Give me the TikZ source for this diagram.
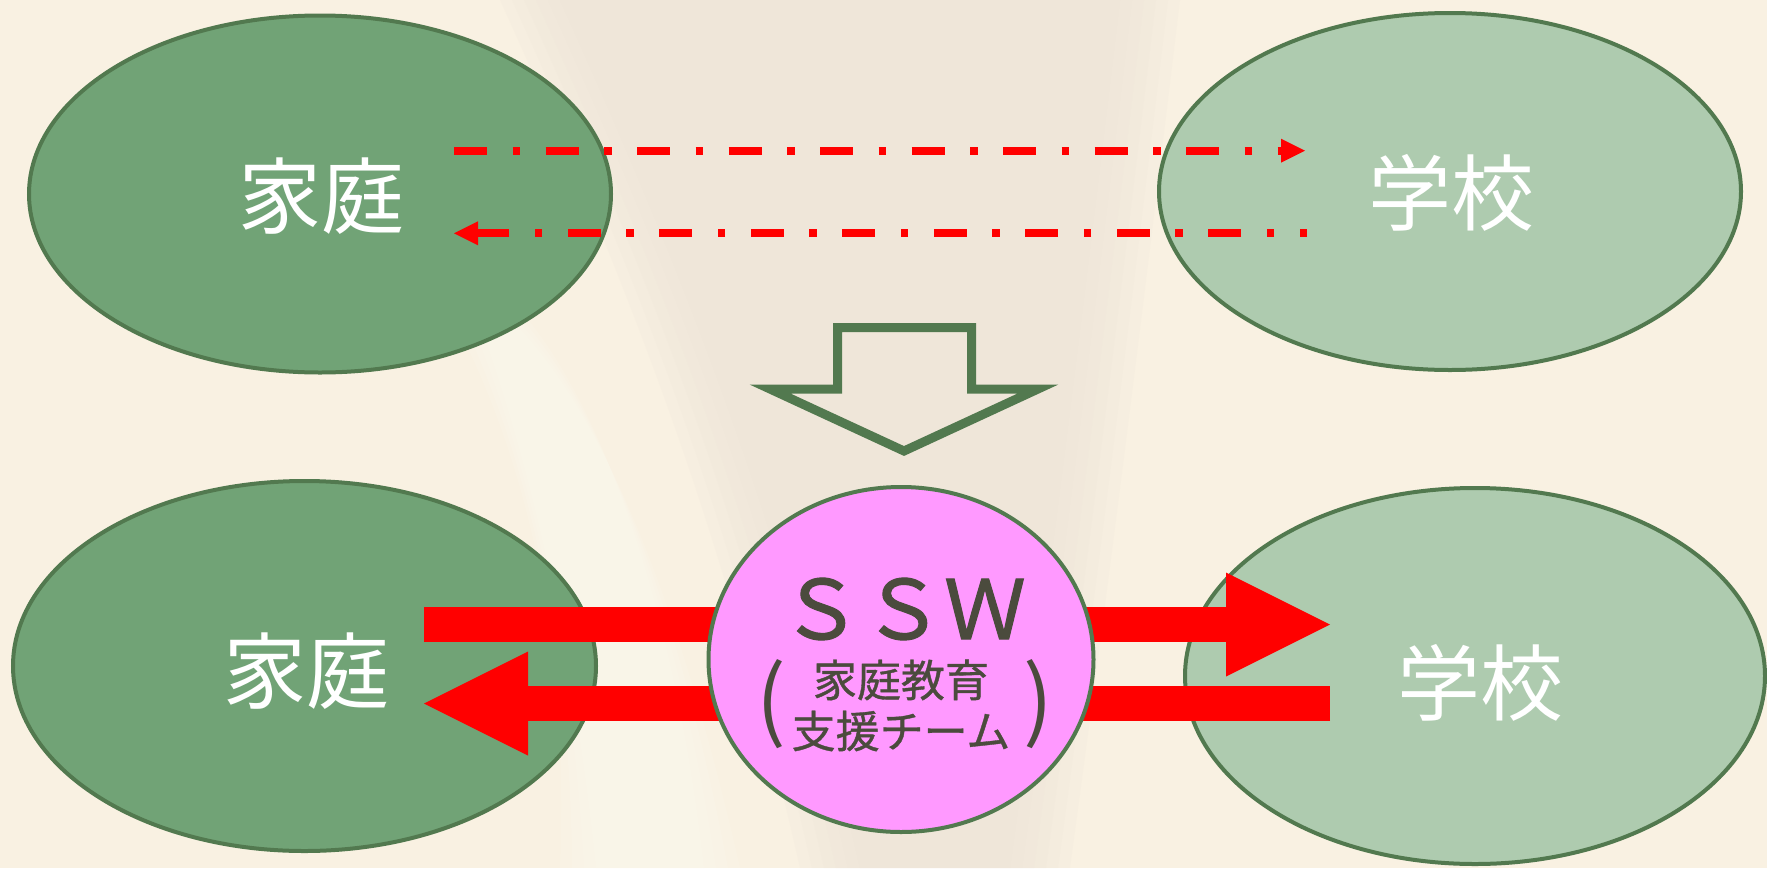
\documentclass[tikz,border=0pt]{standalone}
\usepackage{fontspec}
\setmainfont{Noto Sans CJK JP}
\newfontfamily\sswfam[FakeBold=1.3]{Noto Sans CJK JP}
\newfontfamily\subfam[FakeBold=0.8]{Noto Sans CJK JP}
\usetikzlibrary{shapes.geometric,arrows.meta}
\definecolor{bgbase}{HTML}{F9F1E2}
\definecolor{bggray}{HTML}{EEE4D8}
\definecolor{bglight}{HTML}{FDF9EE}
\definecolor{darkfill}{HTML}{71A376}
\definecolor{lightfill}{HTML}{AECBAF}
\definecolor{rim}{HTML}{52794F}
\definecolor{pinkfill}{HTML}{FF99FF}
\definecolor{sswtext}{HTML}{4B4B3D}
\definecolor{arrowred}{HTML}{FF0000}
\tikzset{
  oval/.style={ellipse, draw=rim, line width=4pt, inner sep=0pt},
  homeoval/.style={oval, fill=darkfill},
  schooloval/.style={oval, fill=lightfill},
  bigjp/.style={text=white, font=\fontsize{83}{90}\selectfont},
  sswfont/.style={text=sswtext, font=\sswfam\fontsize{82}{86}\selectfont, inner sep=0pt},
  subfont/.style={text=sswtext, font=\subfam\fontsize{44}{48}\selectfont, inner sep=0pt},
  parenfont/.style={text=sswtext, font=\fontsize{88}{92}\selectfont, inner sep=0pt},
  dashdot/.style={draw=arrowred, line width=8pt,
    dash pattern=on 33pt off 25.5pt on 7.5pt off 25.5pt},
  smalltip/.style={-{Triangle[length=24pt,width=24pt,line width=0pt]}},
  fatarrow/.style={draw=arrowred, line width=34.5pt,
    -{Triangle[length=104pt,width=104pt,line width=0pt]}},
  hollowarrow/.style={draw=rim, line width=9pt, line join=miter}
}
\begin{document}
\begin{tikzpicture}[x=1pt,y=-1pt]
\useasboundingbox (0,0) rectangle (1767,868);
% background
\fill[bgbase] (0,0) rectangle (1767,868);
\foreach \o in {0,12,24,36,48,60}{
  \fill[bggray, opacity=0.2]
    (500+\o,0) -- (1180-\o,0) .. controls (1150-\o,250) and (1120-\o,500) .. (1070-\o,868)
    -- (800+\o,868) .. controls (730+\o,560) and (650+\o,330) .. (500+\o,0) -- cycle;
}
\foreach \o in {0,12,24,36}{
  \fill[bglight, opacity=0.22]
    (420+\o,260) .. controls (570,310) and (670,560) .. (740-\o,868)
    -- (560+\o,868) .. controls (570,620) and (520,420) .. (420+\o,260) -- cycle;
}
% top row
\node[homeoval, minimum width=582pt, minimum height=357pt] (home1) at (320,194) {};
\node[schooloval, minimum width=582pt, minimum height=357pt] (school1) at (1450,191.5) {};
\node[bigjp] (home1t) at (321,196) {家庭};
\node[bigjp] (school1t) at (1451,193) {学校};
\coordinate (h1a) at (454,150.7);
\coordinate (s1a) at (1305,150.7);
\coordinate (s1b) at (1307,233.3);
\coordinate (h1b) at (454,233.3);
\draw[dashdot, smalltip] (h1a) -- (s1a);
\draw[dashdot, dash phase=25.5pt, smalltip] (s1b) -- (h1b);
% hollow down arrow
\draw[hollowarrow] (837.5,327.5) -- (971.5,327.5) -- (971.5,389) -- (1038,389)
  -- (904,451) -- (770,389) -- (837.5,389) -- cycle;
% bottom row
\node[homeoval, minimum width=583pt, minimum height=370pt] (home2) at (304.5,666) {};
\node[schooloval, minimum width=580pt, minimum height=376pt] (school2) at (1475,676) {};
\node[bigjp] (home2t) at (306,671) {家庭};
\node[bigjp] (school2t) at (1480,683) {学校};
\coordinate (h2a) at (424,624.5);
\coordinate (s2a) at (1330,624.5);
\coordinate (s2b) at (1330,703.5);
\coordinate (h2b) at (424,703.5);
\draw[fatarrow] (h2a) -- (s2a);
\draw[fatarrow] (s2b) -- (h2b);
\node[oval, fill=pinkfill, minimum width=385pt, minimum height=345pt] (ssw) at (901,659.5) {};
\node[sswfont] (sswt) at (903,609) {ＳＳＷ};
\node[subfont] (l1) at (901,680) {家庭教育};
\node[subfont] (l2) at (901,731) {支援チーム};
\node[parenfont] (lp) at (771,704) {(};
\node[parenfont] (rp) at (1038,704) {)};
\end{tikzpicture}
\end{document}
